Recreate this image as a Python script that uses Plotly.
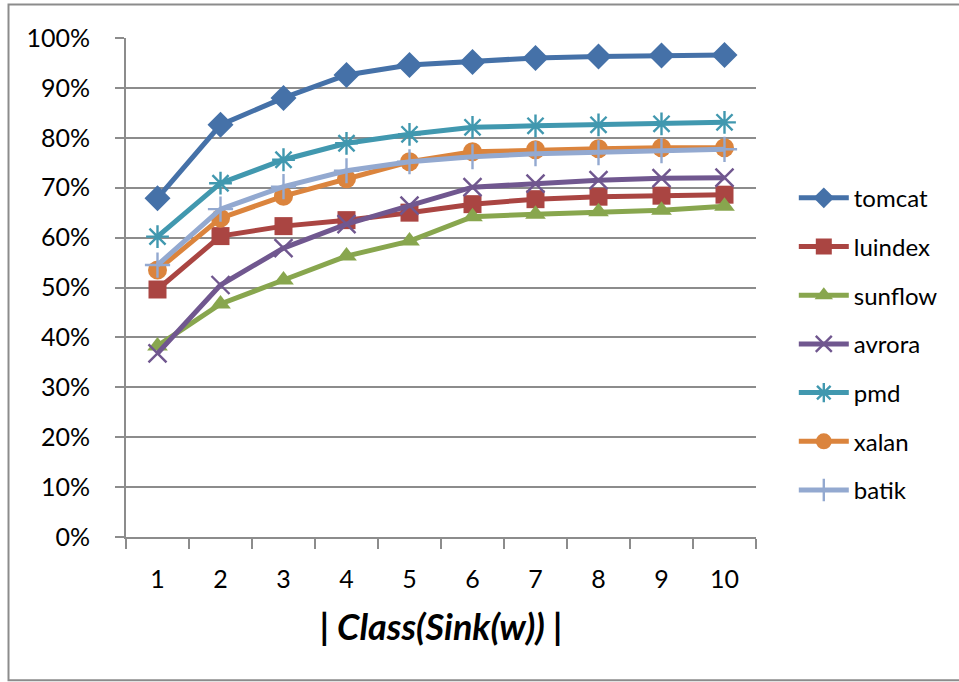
import plotly.graph_objects as go

# |Class(Sink(w))| buckets on the x axis
classes = ["1", "2", "3", "4", "5", "6", "7", "8", "9", "10"]

# coverage per benchmark (fraction)
tomcat = [0.679, 0.826, 0.880, 0.926, 0.946, 0.952, 0.960, 0.963, 0.965, 0.966]
luindex = [0.496, 0.603, 0.623, 0.635, 0.650, 0.667, 0.677, 0.682, 0.684, 0.686]
sunflow = [0.383, 0.467, 0.515, 0.563, 0.593, 0.642, 0.647, 0.652, 0.655, 0.663]
avrora = [0.368, 0.505, 0.579, 0.627, 0.664, 0.701, 0.708, 0.715, 0.719, 0.720]
pmd = [0.602, 0.709, 0.756, 0.789, 0.807, 0.821, 0.824, 0.826, 0.828, 0.831]
xalan = [0.535, 0.639, 0.683, 0.718, 0.752, 0.772, 0.776, 0.778, 0.780, 0.780]
batik = [0.545, 0.657, 0.702, 0.734, 0.752, 0.762, 0.768, 0.770, 0.774, 0.777]

y_ticks = [0, 0.1, 0.2, 0.3, 0.4, 0.5, 0.6, 0.7, 0.8, 0.9, 1.0]
y_tick_text = ["0%", "10%", "20%", "30%", "40%", "50%", "60%", "70%", "80%", "90%", "100%"]

series = [
    ("tomcat", tomcat, "#4571A8", "diamond", 20, 0),
    ("luindex", luindex, "#AA4542", "square", 18, 0),
    ("sunflow", sunflow, "#88A64E", "triangle-up", 18, 0),
    ("avrora", avrora, "#70578F", "x-thin-open", 18, 2.4),
    ("pmd", pmd, "#4198AF", "asterisk-open", 19, 2.4),
    ("xalan", xalan, "#DB843D", "circle", 19, 0),
    ("batik", batik, "#93A9D0", "cross-thin-open", 18, 2.4),
]

FONT = "Lato, 'Liberation Sans', sans-serif"

fig = go.Figure()
for name, vals, color, symbol, size, mlw in series:
    marker = dict(symbol=symbol, size=size, color=color)
    if mlw:
        marker["line"] = dict(color=color, width=mlw)
    else:
        marker["line"] = dict(width=0)
    fig.add_trace(go.Scatter(
        x=classes, y=vals, name=name, mode="lines+markers",
        line=dict(color=color, width=5),
        marker=marker, legendgroup=name,
    ))

fig.update_layout(
    width=959, height=682,
    margin=dict(l=126, r=203, t=38, b=145),
    paper_bgcolor="white", plot_bgcolor="white",
    font=dict(family=FONT, size=25, color="#000000"),
    showlegend=True,
    legend=dict(
        x=1.06, xanchor="left", y=0.724, yanchor="top",
        font=dict(family=FONT, size=24, color="#000000"),
        tracegroupgap=14.5, itemwidth=50,
        bgcolor="rgba(0,0,0,0)",
    ),
    xaxis=dict(
        type="category", range=[-0.5, 9.5],
        showgrid=False, showline=True, linecolor="#8C8C8C", linewidth=2,
        ticks="outside", tickson="boundaries", ticklen=10, tickcolor="#8C8C8C", tickwidth=2,
        tickfont=dict(family=FONT, size=25), ticklabelstandoff=19,
        title=dict(text="<b><i>| Class(Sink(w)) |</i></b>", font=dict(family=FONT, size=36), standoff=23),
        zeroline=False, fixedrange=True,
    ),
    yaxis=dict(
        range=[0, 1.0], tickvals=y_ticks, ticktext=y_tick_text,
        showgrid=True, gridcolor="#8C8C8C", gridwidth=2,
        showline=True, linecolor="#8C8C8C", linewidth=2,
        ticks="outside", ticklen=9, tickcolor="#8C8C8C", tickwidth=2,
        tickfont=dict(family=FONT, size=25), ticklabelstandoff=20,
        zeroline=False, fixedrange=True,
    ),
    shapes=[dict(
        type="rect", xref="paper", yref="paper",
        x0=-0.1865, x1=1.5, y0=-0.287, y1=1.067,
        line=dict(color="#8C8C8C", width=2), fillcolor="rgba(0,0,0,0)", layer="below",
    )],
)

fig.write_html("out.html")
